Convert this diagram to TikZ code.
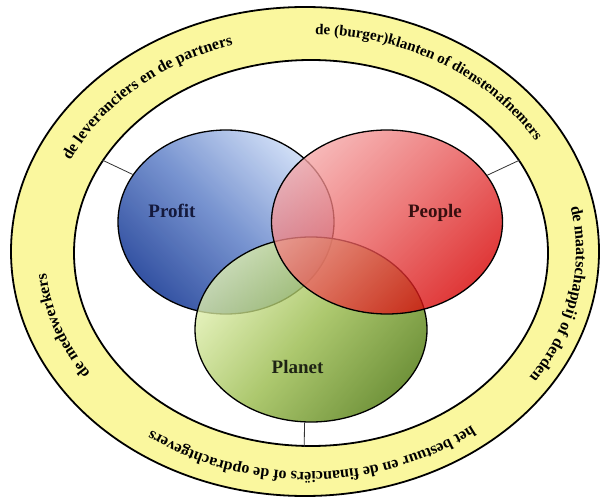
\documentclass[tikz,border=0pt]{standalone}
\usepackage{fontspec}
\setmainfont{Liberation Serif}
\usetikzlibrary{shapes.geometric,decorations.text,calc}

\definecolor{ringyellow}{RGB}{250,247,158}
\definecolor{profitdark}{RGB}{35,68,155}
\definecolor{profitmid}{RGB}{110,140,205}
\definecolor{profitlight}{RGB}{205,220,246}
\definecolor{peoplelight}{RGB}{245,165,165}
\definecolor{peoplemid}{RGB}{232,85,85}
\definecolor{peopledark}{RGB}{215,0,0}
\definecolor{planetlight}{RGB}{226,241,175}
\definecolor{planetmid}{RGB}{150,185,70}
\definecolor{planetdark}{RGB}{74,118,5}

\begin{document}
\begin{tikzpicture}[x=1pt,y=1pt,
  venn/.style={ellipse, draw=black, line width=1.3pt, inner sep=0pt, fill opacity=0.78},
  vennlabel/.style={anchor=base, inner sep=0pt, font=\fontsize{19}{19}\selectfont\bfseries},
  ringline/.style={ellipse, draw=black, line width=1.8pt, inner sep=0pt},
  link/.style={draw=black!80, line width=0.8pt},
  ringtext/.style={decorate, decoration={text along path, text align=center,
    text={|\fontsize{16}{16}\selectfont\bfseries|#1}}}
]
  \useasboundingbox (0,0) rectangle (603,499);

  % ring
  \node[ringline, fill=ringyellow, minimum width=588, minimum height=489] (ringout) at (305,247.5) {};
  \node[ringline, fill=white, minimum width=474, minimum height=386] (ringin) at (311,246) {};
  \coordinate (mid) at (308,247);

  % texts in the ring
  \path[ringtext={de leveranciers en de partners}]
    (mid) ++(170:262 and 216) arc[start angle=170, end angle=94, x radius=262, y radius=216];
  \path[decorate, decoration={text along path, text align=center,
      text={|\fontsize{15}{15}\selectfont\bfseries|de (burger)klanten of dienstenafnemers}}]
    (mid) ++(95:264 and 218) arc[start angle=95, end angle=23, x radius=264, y radius=218];
  \path[ringtext={de maatschappij of derden}]
    (mid) ++(22:268 and 222) arc[start angle=22, end angle=-44, x radius=268, y radius=222];
  \path[ringtext={het bestuur en de financiërs of de opdrachtgevers}]
    (mid) ++(-38:266 and 220) arc[start angle=-38, end angle=-140, x radius=266, y radius=220];
  \path[ringtext={de medewerkers}]
    (mid) ++(232:263 and 217) arc[start angle=232, end angle=166, x radius=263, y radius=217];

  % the three circles
  \node[venn, fill opacity=0.92, top color=profitlight, bottom color=profitdark, middle color=profitmid,
    shading angle=-45, minimum width=216, minimum height=184] (profit) at (226,277) {};
  \node[venn, top color=planetlight, bottom color=planetdark, middle color=planetmid,
    shading angle=50, minimum width=232, minimum height=185] (planet) at (311,169.5) {};
  \node[venn, top color=peoplelight, bottom color=peopledark, middle color=peoplemid,
    shading angle=45, minimum width=231, minimum height=184] (people) at (387,277) {};

  \node[vennlabel, text={rgb,255:red,20;green,25;blue,60}] (profitlbl) at ([shift={(-54,4)}]profit.center) {Profit};
  \node[vennlabel, text={rgb,255:red,55;green,15;blue,15}] (peoplelbl) at ([shift={(48,4)}]people.center) {People};
  \node[vennlabel, text={rgb,255:red,30;green,35;blue,20}] (planetlbl) at ([shift={(-13.5,-43.5)}]planet.center) {Planet};

  % connectors
  \draw[link] (ringin.156) -- (profit.153);
  \draw[link] (ringin.24) -- (people.25);
  \draw[link] (ringin.268) -- (planet.266);
\end{tikzpicture}
\end{document}
